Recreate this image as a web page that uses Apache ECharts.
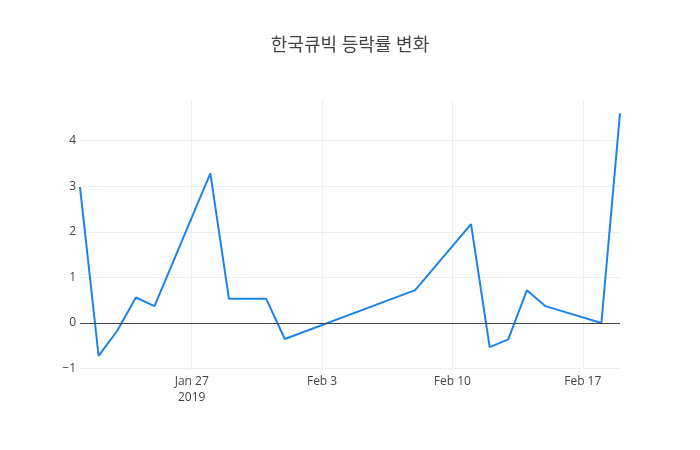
<!DOCTYPE html>
<html>
<head>
<meta charset="utf-8">
<script src="https://cdn.jsdelivr.net/npm/echarts@6/dist/echarts.min.js"></script>
<style>
html, body { margin: 0; padding: 0; background: #fff; }
#chart { width: 700px; height: 450px; }
</style>
</head>
<body>
<div id="chart"></div>
<script>
// 거래일
let dates = ['2019-01-21', '2019-01-22', '2019-01-23', '2019-01-24', '2019-01-25',
    '2019-01-28', '2019-01-29', '2019-01-31', '2019-02-01', '2019-02-08',
    '2019-02-11', '2019-02-12', '2019-02-13', '2019-02-14', '2019-02-15',
    '2019-02-18', '2019-02-19'];
// 등락률 (%)
let changes = [2.98, -0.72, -0.17, 0.56, 0.37,
    3.28, 0.53, 0.53, -0.35, 0.72,
    2.17, -0.53, -0.36, 0.72, 0.37,
    0.0, 4.6];
let xTicks = ['2019-01-27', '2019-02-03', '2019-02-10', '2019-02-17'];
let yTicks = [-1, 0, 1, 2, 3, 4];

let months = ['Jan', 'Feb', 'Mar', 'Apr', 'May', 'Jun', 'Jul', 'Aug', 'Sep', 'Oct', 'Nov', 'Dec'];
function ts(s) {
    let p = s.split('-');
    return Date.UTC(+p[0], +p[1] - 1, +p[2]);
}

let chart = echarts.init(document.getElementById('chart'));
let option = {
    textStyle: { fontFamily: '"Open Sans", "Noto Sans CJK KR", sans-serif' },
    title: {
        text: '한국큐빅 등락률 변화',
        left: 'center',
        top: 32,
        textStyle: {
            fontFamily: '"Open Sans", "Noto Sans CJK KR", sans-serif',
            fontSize: 18,
            fontWeight: 'normal',
            color: '#444'
        }
    },
    grid: { left: 80, right: 80, top: 100, bottom: 80, containLabel: false },
    xAxis: {
        // 날짜는 timestamp 값으로 (customValues 사용 위해 value 축)
        type: 'value',
        min: ts(dates[0]),
        max: ts(dates[dates.length - 1]),
        axisLine: { show: false },
        axisTick: { show: false, customValues: xTicks.map(ts) },
        splitLine: { show: true, lineStyle: { color: '#eee', width: 1 } },
        axisLabel: {
            customValues: xTicks.map(ts),
            color: '#444',
            fontSize: 12,
            margin: 4,
            lineHeight: 16,
            formatter: function (v) {
                let d = new Date(v);
                let s = months[d.getUTCMonth()] + ' ' + d.getUTCDate();
                if (v === ts(xTicks[0])) s += '\n' + d.getUTCFullYear();
                return s;
            }
        }
    },
    yAxis: {
        type: 'value',
        min: -1.03,
        max: 4.89,
        axisLine: { show: false },
        axisTick: { show: false, customValues: yTicks },
        splitLine: { show: true, lineStyle: { color: '#eee', width: 1 } },
        axisLabel: {
            customValues: yTicks,
            color: '#444',
            fontSize: 12,
            margin: 4,
            formatter: function (v) { return v < 0 ? '\u2212' + Math.abs(v) : String(v); }
        }
    },
    series: [{
        type: 'line',
        data: dates.map((d, i) => [ts(d), changes[i]]),
        symbol: 'none',
        lineStyle: { color: '#1c84e8', width: 2 },
        itemStyle: { color: '#1c84e8' },
        markLine: {
            silent: true,
            symbol: 'none',
            label: { show: false },
            lineStyle: { color: '#444', width: 1, type: 'solid' },
            data: [{ yAxis: 0 }]
        },
        z: 3
    }]
};
chart.setOption(option);
</script>
</body>
</html>
